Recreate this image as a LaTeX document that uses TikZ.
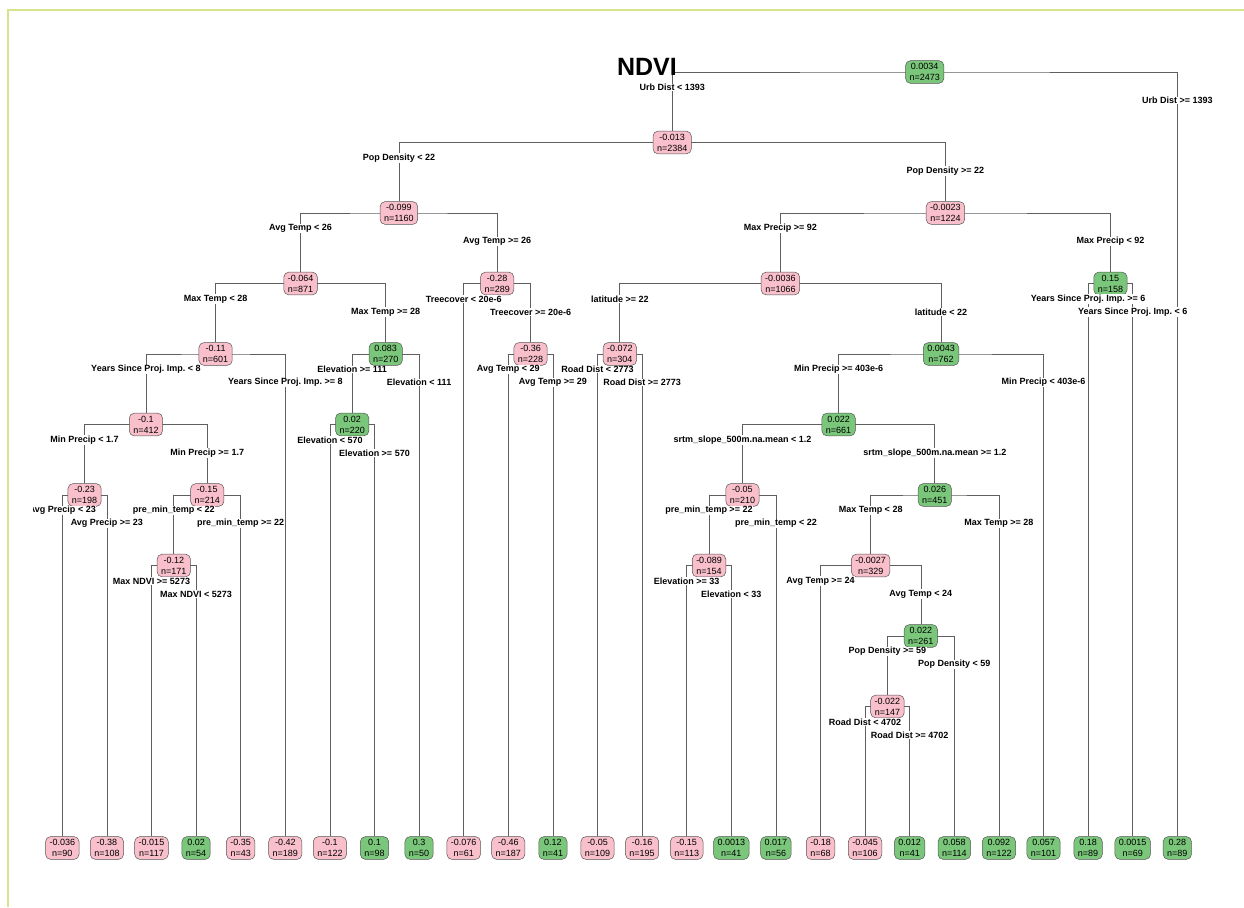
\documentclass[tikz,border=0pt]{standalone}
\usepackage{fontspec}
\setmainfont{Liberation Sans}
\usepackage{xcolor}
\usepackage{tikz}
\usetikzlibrary{calc,backgrounds}
\frenchspacing
\definecolor{NodePink}{RGB}{249,191,203}
\definecolor{NodeGreen}{RGB}{122,198,122}
\definecolor{BoxGray}{RGB}{85,85,85}
\definecolor{EdgeGray}{RGB}{95,95,95}
\definecolor{FrameGreen}{RGB}{214,228,140}
\tikzset{
    rpink/.style={rectangle, rounded corners=5pt, draw=BoxGray, fill=NodePink, line width=0.5pt, align=center, inner xsep=4pt, inner ysep=2.7pt, font=\fontsize{9}{11}\selectfont},
    rgreen/.style={rpink, fill=NodeGreen},
    splitlab/.style={fill=white, inner sep=0.6pt, font=\bfseries\fontsize{9}{11}\selectfont},
    branch/.style={draw=EdgeGray, line width=0.7pt}
}

\begin{document}
\begin{tikzpicture}[x=1pt, y=-1pt]
        \useasboundingbox (0,0) rectangle (1244,907);
        % --- FRAME ---
        \draw[FrameGreen, line width=2.2pt] (8,907) -- (8,10) -- (1244,10);

        % --- TITLE ---
        \node[font=\bfseries\fontsize{25}{30}\selectfont, inner sep=0pt] (title) at (647,66.5) {NDVI};

        % --- SPLIT NODES (y = 72 + 70.5 per level) ---
        \node[rgreen] (s2473) at (924.7,72) {0.0034\\n=2473};
        \node[rpink] (s2384) at (672.15,142.5) {-0.013\\n=2384};
        \node[rpink] (s1160) at (398.9,213) {-0.099\\n=1160};
        \node[rpink] (s1224) at (945.4,213) {-0.0023\\n=1224};
        \node[rpink] (s871) at (300.6,283.5) {-0.064\\n=871};
        \node[rpink] (s289) at (497.15,283.5) {-0.28\\n=289};
        \node[rpink] (s1066) at (780.4,283.5) {-0.0036\\n=1066};
        \node[rgreen] (s158) at (1110.4,283.5) {0.15\\n=158};
        \node[rpink] (s601) at (215.6,354) {-0.11\\n=601};
        \node[rgreen] (s270) at (385.65,354) {0.083\\n=270};
        \node[rpink] (s228) at (530.6,354) {-0.36\\n=228};
        \node[rpink] (s304) at (619.8,354) {-0.072\\n=304};
        \node[rgreen] (s762) at (941.05,354) {0.0043\\n=762};
        \node[rpink] (s412) at (145.9,424.5) {-0.1\\n=412};
        \node[rgreen] (s220) at (352.2,424.5) {0.02\\n=220};
        \node[rgreen] (s661) at (838.6,424.5) {0.022\\n=661};
        \node[rpink] (s198) at (84.6,495) {-0.23\\n=198};
        \node[rpink] (s214) at (207.25,495) {-0.15\\n=214};
        \node[rpink] (s210) at (742.45,495) {-0.05\\n=210};
        \node[rgreen] (s451) at (934.8,495) {0.026\\n=451};
        \node[rpink] (s171) at (173.8,565.5) {-0.12\\n=171};
        \node[rpink] (s154) at (709,565.5) {-0.089\\n=154};
        \node[rpink] (s329) at (870.7,565.5) {-0.0027\\n=329};
        \node[rgreen] (s261) at (920.85,636) {0.022\\n=261};
        \node[rpink] (s147) at (887.4,706.5) {-0.022\\n=147};

        % --- LEAVES ---
        \foreach \val/\cnt/\col [count=\i] in {
            -0.036/90/pink, -0.38/108/pink, -0.015/117/pink, 0.02/54/green,
            -0.35/43/pink, -0.42/189/pink, -0.1/122/pink, 0.1/98/green,
            0.3/50/green, -0.076/61/pink, -0.46/187/pink, 0.12/41/green,
            -0.05/109/pink, -0.16/195/pink, -0.15/113/pink, 0.0013/41/green,
            0.017/56/green, -0.18/68/pink, -0.045/106/pink, 0.012/41/green,
            0.058/114/green, 0.092/122/green, 0.057/101/green, 0.18/89/green,
            0.0015/69/green, 0.28/89/green}
            \node[r\col] (l\i) at ({62.3+44.6*(\i-1)},848) {\val\\n=\cnt};

        % parent / left / right / left label / right label
        \def\splits{
            s2473/s2384/l26/{Urb Dist < 1393}/{Urb Dist >= 1393},
            s2384/s1160/s1224/{Pop Density < 22}/{Pop Density >= 22},
            s1160/s871/s289/{Avg Temp < 26}/{Avg Temp >= 26},
            s871/s601/s270/{Max Temp < 28}/{Max Temp >= 28},
            s601/s412/l6/{Years Since Proj. Imp. < 8}/{Years Since Proj. Imp. >= 8},
            s412/s198/s214/{Min Precip < 1.7}/{Min Precip >= 1.7},
            s198/l1/l2/{Avg Precip < 23}/{Avg Precip >= 23},
            s214/s171/l5/{pre\_min\_temp < 22}/{pre\_min\_temp >= 22},
            s171/l3/l4/{Max NDVI >= 5273}/{Max NDVI < 5273},
            s270/s220/l9/{Elevation >= 111}/{Elevation < 111},
            s220/l7/l8/{Elevation < 570}/{Elevation >= 570},
            s289/l10/s228/{Treecover < 20e-6}/{Treecover >= 20e-6},
            s228/l11/l12/{Avg Temp < 29}/{Avg Temp >= 29},
            s1224/s1066/s158/{Max Precip >= 92}/{Max Precip < 92},
            s1066/s304/s762/{latitude >= 22}/{latitude < 22},
            s304/l13/l14/{Road Dist < 2773}/{Road Dist >= 2773},
            s762/s661/l23/{Min Precip >= 403e-6}/{Min Precip < 403e-6},
            s661/s210/s451/{srtm\_slope\_500m.na.mean < 1.2}/{srtm\_slope\_500m.na.mean >= 1.2},
            s210/s154/l17/{pre\_min\_temp >= 22}/{pre\_min\_temp < 22},
            s154/l15/l16/{Elevation >= 33}/{Elevation < 33},
            s451/s329/l22/{Max Temp < 28}/{Max Temp >= 28},
            s329/l18/s261/{Avg Temp >= 24}/{Avg Temp < 24},
            s261/s147/l21/{Pop Density >= 59}/{Pop Density < 59},
            s147/l19/l20/{Road Dist < 4702}/{Road Dist >= 4702},
            s158/l24/l25/{Years Since Proj. Imp. >= 6}/{Years Since Proj. Imp. < 6}}

        % --- BRANCHES ---
        \begin{scope}[on background layer]
            \foreach \p/\lc/\rc/\lt/\rt in \splits
                \draw[branch] (\lc.north) |- (\p.center) -| (\rc.north);
        \end{scope}

        % --- SPLIT LABELS (clipped to the plot region) ---
        \begin{scope}
            \clip (33.5,0) rectangle (1244,907);
            \foreach \p/\lc/\rc/\lt/\rt in \splits {
                \node[splitlab] (\p-l) at ($(\lc |- \p)+(0,15.5)$) {\lt};
                \node[splitlab] (\p-r) at ($(\rc |- \p)+(0,28.5)$) {\rt};
            }
        \end{scope}
    \end{tikzpicture}
\end{document}
